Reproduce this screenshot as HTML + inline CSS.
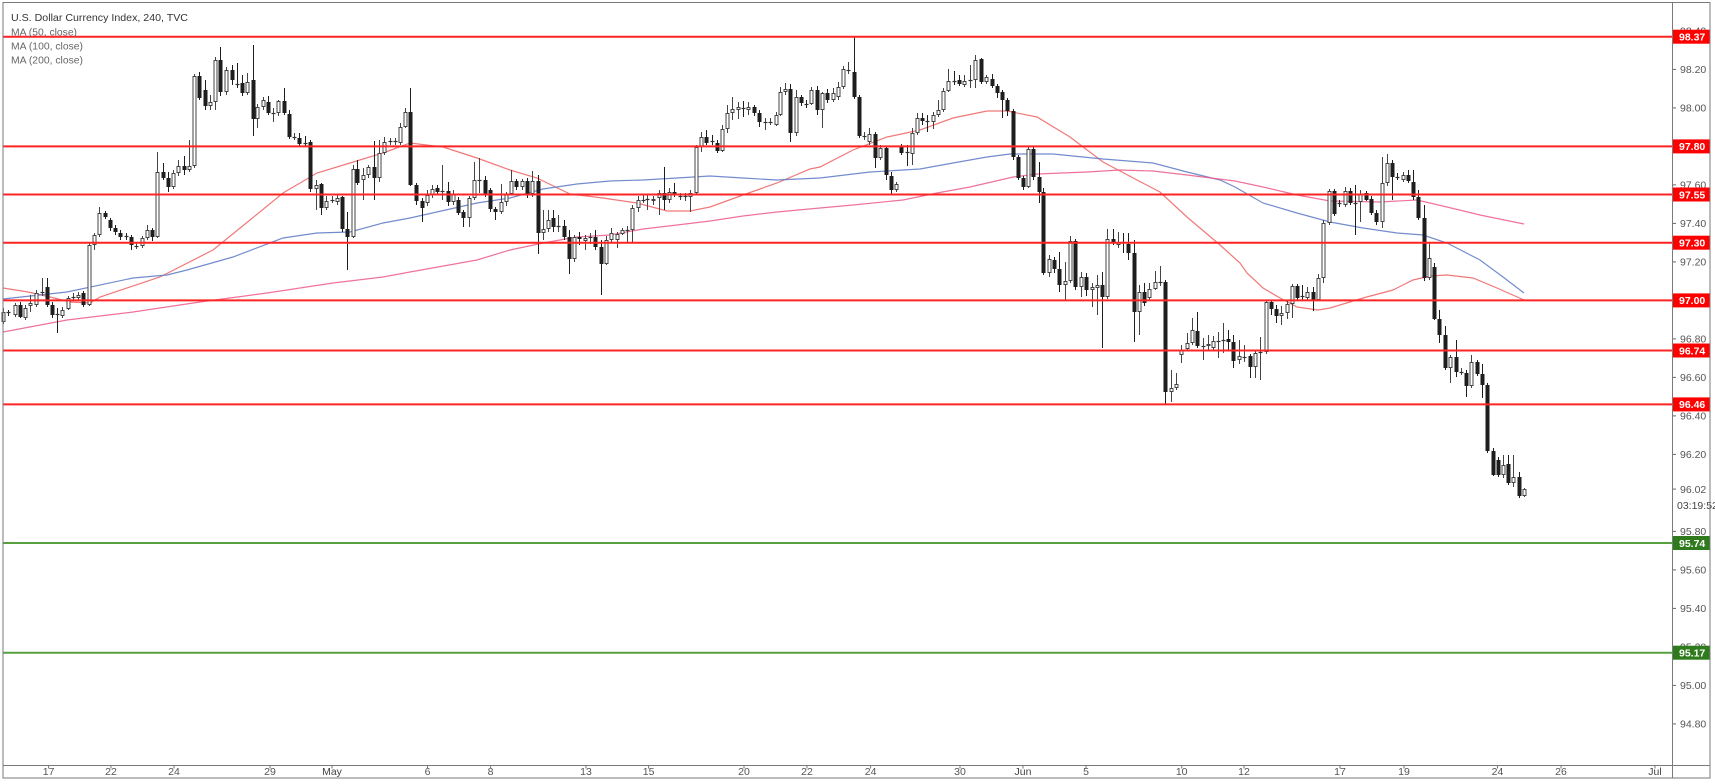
<!DOCTYPE html>
<html>
<head>
<meta charset="utf-8">
<style>
html,body{margin:0;padding:0;background:#fff;overflow:hidden;}
svg{display:block;font-family:"Liberation Sans",Arial,sans-serif;}
.tk{font-size:10.5px;fill:#555;}
.dt{font-size:10.5px;fill:#555;}
.bx{font-size:10.5px;fill:#fff;font-weight:bold;}
</style>
</head>
<body>
<svg id="s" width="1715" height="784" viewBox="0 0 1715 784" xmlns="http://www.w3.org/2000/svg">
<rect x="0" y="0" width="1715" height="784" fill="#fff"/>

<!-- MA lines -->
<polyline fill="none" stroke="#f06060" stroke-width="1.2" stroke-opacity="0.85" points="3,288 28,292 50,297 70,302 90,303 100,297 160,277 213,250 250,220 283,193 317,173 350,163 383,153 410,143 443,147 477,158 510,170 537,178 570,194 603,198 637,203 667,211 690,211 710,207 743,195 777,183 810,169 820,167 853,150 887,137 920,130 953,118 987,111 1007,111 1037,117 1070,137 1103,162 1137,180 1160,192 1187,217 1220,245 1240,263 1247,273 1263,288 1280,298 1297,307 1318,310 1330,308 1363,298 1393,290 1413,280 1430,276 1447,275 1473,278 1497,288 1524,300"/>
<polyline fill="none" stroke="#5a78c4" stroke-width="1.2" stroke-opacity="0.85" points="3,299 67,292 133,278 167,275 187,270 233,257 283,238 317,233 350,232 383,223 410,218 477,203 510,198 543,189 577,184 610,181 643,180 677,178 710,176 743,178 777,180 820,178 870,172 920,169 953,163 987,157 1010,154 1053,154 1103,159 1153,163 1187,172 1220,180 1235,187 1263,203 1297,213 1330,222 1363,228 1397,233 1423,235 1447,243 1480,260 1503,277 1524,293"/>
<polyline fill="none" stroke="#ec5a86" stroke-width="1.2" stroke-opacity="0.85" points="3,332 67,320 133,312 200,302 267,293 333,283 383,277 410,272 477,260 510,250 543,243 577,237 610,235 643,229 677,225 710,221 743,216 777,212 820,208 853,205 903,200 937,193 970,187 1013,177 1037,174 1087,172 1120,170 1153,171 1187,175 1235,181 1263,187 1297,195 1330,201 1380,202 1417,200 1447,207 1480,215 1524,224"/>

<g id="candles"></g>

<!-- level lines -->
<g stroke="#ff2424" stroke-width="2">
<line x1="3" x2="1672" y1="36.7" y2="36.7"/>
<line x1="3" x2="1672" y1="146.4" y2="146.4"/>
<line x1="3" x2="1672" y1="194.5" y2="194.5"/>
<line x1="3" x2="1672" y1="242.7" y2="242.7"/>
<line x1="3" x2="1672" y1="300.4" y2="300.4"/>
<line x1="3" x2="1672" y1="350.5" y2="350.5"/>
<line x1="3" x2="1672" y1="404.4" y2="404.4"/>
</g>
<g stroke="#56a040" stroke-width="2">
<line x1="3" x2="1672" y1="543" y2="543"/>
<line x1="3" x2="1672" y1="652.7" y2="652.7"/>
</g>

<!-- legend -->
<text x="11" y="21" font-size="10.5" fill="#333" textLength="177" lengthAdjust="spacingAndGlyphs">U.S. Dollar Currency Index, 240, TVC</text>
<text x="11" y="35.5" font-size="10.5" fill="#666" textLength="66" lengthAdjust="spacingAndGlyphs">MA (50, close)</text>
<text x="11" y="49.5" font-size="10.5" fill="#666" textLength="72" lengthAdjust="spacingAndGlyphs">MA (100, close)</text>
<text x="11" y="63.5" font-size="10.5" fill="#666" textLength="72" lengthAdjust="spacingAndGlyphs">MA (200, close)</text>

<!-- axes area background -->
<rect x="1673" y="3" width="37" height="775" fill="#fff"/>
<rect x="3" y="766" width="1707" height="12" fill="#fff"/>

<!-- price ticks -->
<g stroke="#666" stroke-width="1">
<line x1="1672" x2="1676" y1="30.9" y2="30.9"/><line x1="1672" x2="1676" y1="69.4" y2="69.4"/>
<line x1="1672" x2="1676" y1="107.9" y2="107.9"/><line x1="1672" x2="1676" y1="146.4" y2="146.4"/>
<line x1="1672" x2="1676" y1="184.9" y2="184.9"/><line x1="1672" x2="1676" y1="223.4" y2="223.4"/>
<line x1="1672" x2="1676" y1="261.9" y2="261.9"/><line x1="1672" x2="1676" y1="300.4" y2="300.4"/>
<line x1="1672" x2="1676" y1="338.9" y2="338.9"/><line x1="1672" x2="1676" y1="377.4" y2="377.4"/>
<line x1="1672" x2="1676" y1="415.9" y2="415.9"/><line x1="1672" x2="1676" y1="454.4" y2="454.4"/>
<line x1="1672" x2="1676" y1="489.1" y2="489.1"/>
<line x1="1672" x2="1676" y1="531.4" y2="531.4"/><line x1="1672" x2="1676" y1="569.9" y2="569.9"/>
<line x1="1672" x2="1676" y1="608.4" y2="608.4"/><line x1="1672" x2="1676" y1="646.9" y2="646.9"/>
<line x1="1672" x2="1676" y1="685.4" y2="685.4"/><line x1="1672" x2="1676" y1="723.9" y2="723.9"/>
</g>
<g class="tk">
<text x="1680" y="34.6">98.40</text>
<text x="1680" y="73.1">98.20</text>
<text x="1680" y="111.6">98.00</text>
<text x="1680" y="188.6">97.60</text>
<text x="1680" y="227.1">97.40</text>
<text x="1680" y="265.6">97.20</text>
<text x="1680" y="342.6">96.80</text>
<text x="1680" y="381.1">96.60</text>
<text x="1680" y="419.6">96.40</text>
<text x="1680" y="458.1">96.20</text>
<text x="1680" y="492.8">96.02</text>
<text x="1677" y="509" fill="#444">03:19:52</text>
<text x="1680" y="535.1">95.80</text>
<text x="1680" y="573.6">95.60</text>
<text x="1680" y="612.1">95.40</text>
<text x="1680" y="650.6">95.20</text>
<text x="1680" y="689.1">95.00</text>
<text x="1680" y="727.6">94.80</text>
</g>

<!-- level label boxes -->
<g fill="#ff0000">
<rect x="1672" y="29.7" width="38" height="14"/>
<rect x="1672" y="139.4" width="38" height="14"/>
<rect x="1672" y="187.5" width="38" height="14"/>
<rect x="1672" y="235.7" width="38" height="14"/>
<rect x="1672" y="293.4" width="38" height="14"/>
<rect x="1672" y="343.5" width="38" height="14"/>
<rect x="1672" y="397.4" width="38" height="14"/>
</g>
<g fill="#2f7a1c">
<rect x="1672" y="536" width="38" height="14"/>
<rect x="1672" y="645.7" width="38" height="14"/>
</g>
<g class="bx">
<text x="1679" y="40.5">98.37</text>
<text x="1679" y="150.2">97.80</text>
<text x="1679" y="198.3">97.55</text>
<text x="1679" y="246.5">97.30</text>
<text x="1679" y="304.2">97.00</text>
<text x="1679" y="354.3">96.74</text>
<text x="1679" y="408.2">96.46</text>
<text x="1679" y="546.8">95.74</text>
<text x="1679" y="656.5">95.17</text>
</g>

<!-- date axis -->
<g stroke="#777" stroke-width="1">
<line x1="48.6" x2="48.6" y1="766" y2="768.5"/><line x1="111" x2="111" y1="766" y2="768.5"/>
<line x1="174" x2="174" y1="766" y2="768.5"/><line x1="270" x2="270" y1="766" y2="768.5"/>
<line x1="332" x2="332" y1="766" y2="768.5"/><line x1="427.5" x2="427.5" y1="766" y2="768.5"/>
<line x1="490.6" x2="490.6" y1="766" y2="768.5"/><line x1="586" x2="586" y1="766" y2="768.5"/>
<line x1="648.6" x2="648.6" y1="766" y2="768.5"/><line x1="744" x2="744" y1="766" y2="768.5"/>
<line x1="807" x2="807" y1="766" y2="768.5"/><line x1="870.6" x2="870.6" y1="766" y2="768.5"/>
<line x1="960" x2="960" y1="766" y2="768.5"/><line x1="1023" x2="1023" y1="766" y2="768.5"/>
<line x1="1086" x2="1086" y1="766" y2="768.5"/><line x1="1181.7" x2="1181.7" y1="766" y2="768.5"/>
<line x1="1244" x2="1244" y1="766" y2="768.5"/><line x1="1340" x2="1340" y1="766" y2="768.5"/>
<line x1="1404" x2="1404" y1="766" y2="768.5"/><line x1="1497.5" x2="1497.5" y1="766" y2="768.5"/>
<line x1="1561" x2="1561" y1="766" y2="768.5"/><line x1="1655" x2="1655" y1="766" y2="768.5"/>
</g>
<g class="dt" text-anchor="middle">
<text x="48.6" y="775">17</text><text x="111" y="775">22</text><text x="174" y="775">24</text>
<text x="270" y="775">29</text><text x="332" y="775" fill="#444">May</text><text x="427.5" y="775">6</text>
<text x="490.6" y="775">8</text><text x="586" y="775">13</text><text x="648.6" y="775">15</text>
<text x="744" y="775">20</text><text x="807" y="775">22</text><text x="870.6" y="775">24</text>
<text x="960" y="775">30</text><text x="1023" y="775" fill="#444">Jun</text><text x="1086" y="775">5</text>
<text x="1181.7" y="775">10</text><text x="1244" y="775">12</text><text x="1340" y="775">17</text>
<text x="1404" y="775">19</text><text x="1497.5" y="775">24</text><text x="1561" y="775">26</text>
<text x="1655" y="775" fill="#444">Jul</text>
</g>

<!-- frame -->
<g stroke="#7a7a7a" stroke-width="1" fill="none">
<rect x="3" y="2.5" width="1707" height="775.5"/>
<line x1="1672.5" x2="1672.5" y1="2.5" y2="778"/>
<line x1="3" x2="1710" y1="765.5" y2="765.5"/>
</g>
</svg>
<script>
(function(){
var D=[[3,322,312,308,324],[8,312,313,310,316],[15,315,305,303,317],[20,305,317,302,318],[25,318,308,305,320],[30,306,303,295,312],[36,305,293,290,307],[42,293,292,278,296],[47,287,305,278,307],[52,305,315,302,318],[57,314,315,308,333],[62,316,310,307,318],[68,309,298,296,310],[73,298,297,293,300],[78,298,295,292,300],[83,293,305,291,307],[89,305,245,243,306],[94,245,235,233,250],[99,235,213,207,237],[105,213,217,211,219],[110,220,228,218,231],[115,228,232,225,235],[120,233,237,230,240],[126,236,237,233,240],[131,237,245,235,250],[136,246,246,242,249],[142,246,238,236,248],[147,238,230,225,240],[152,230,237,228,241],[157,237,172,152,238],[163,172,178,163,180],[168,178,187,172,192],[173,187,173,170,189],[178,173,166,160,176],[184,166,170,156,175],[189,170,166,140,172],[194,166,76,74,168],[199,76,98,72,100],[205,90,106,80,110],[210,106,102,95,110],[215,102,60,57,110],[220,60,92,47,96],[226,92,70,67,95],[232,70,80,65,85],[237,84,85,63,88],[242,83,93,75,96],[247,93,82,73,95],[253,80,119,45,136],[257,119,107,104,128],[263,107,100,97,110],[268,102,113,96,115],[273,113,113,108,122],[278,113,101,100,116],[284,101,113,88,115],[289,114,137,110,139],[294,137,137,133,140],[299,138,144,133,146],[305,143,144,136,146],[310,142,189,140,192],[316,189,185,180,210],[321,184,208,183,215],[326,208,201,196,210],[332,201,200,196,203],[337,202,198,195,205],[342,197,229,196,232],[347,229,237,212,270],[353,237,169,165,238],[357,169,183,160,185],[363,180,175,168,200],[368,175,167,165,178],[374,167,178,141,200],[379,178,153,140,182],[384,153,142,137,155],[390,142,141,138,145],[395,142,141,138,145],[400,143,127,123,145],[405,127,112,108,128],[410,112,185,88,186],[416,185,201,183,205],[422,201,208,198,222],[427,203,195,190,206],[432,195,189,185,198],[437,188,192,185,195],[442,192,191,165,200],[448,191,202,182,206],[453,202,194,190,205],[458,200,213,197,215],[463,212,218,210,227],[469,218,198,196,227],[474,198,180,162,200],[479,180,180,158,193],[485,180,194,176,197],[490,190,209,188,212],[495,209,212,207,220],[501,212,202,184,214],[506,202,194,192,206],[511,194,181,170,195],[516,181,187,179,190],[522,187,181,179,190],[527,181,194,178,198],[532,194,181,171,197],[538,181,233,175,254],[543,233,229,210,240],[548,229,220,210,232],[553,218,227,210,232],[558,227,226,215,232],[564,226,237,220,240],[569,237,259,230,274],[574,259,237,235,262],[579,237,239,232,245],[585,241,238,235,250],[590,238,237,233,244],[595,237,247,230,250],[601,247,264,240,295],[606,264,240,236,265],[611,240,233,228,243],[617,240,234,232,248],[622,234,230,228,235],[627,230,230,226,242],[632,230,208,205,243],[638,208,200,196,212],[643,200,200,195,203],[647,200,199,195,210],[653,201,199,196,205],[659,198,193,190,215],[664,193,200,167,210],[669,200,192,188,203],[674,192,195,183,197],[680,196,196,193,200],[685,196,196,193,201],[690,197,193,190,212],[696,193,147,145,195],[701,147,137,132,152],[706,137,143,130,145],[712,141,142,135,145],[717,143,151,140,153],[722,151,129,125,152],[727,129,113,105,133],[732,113,109,97,120],[738,110,107,102,119],[743,108,109,101,117],[748,110,107,102,115],[754,107,113,105,116],[759,113,122,110,127],[765,122,122,118,130],[770,122,122,118,125],[776,125,115,112,126],[780,115,92,87,116],[785,92,89,83,95],[790,89,133,84,142],[796,133,97,90,136],[801,97,103,95,106],[806,104,105,100,108],[811,104,90,87,105],[817,90,110,86,115],[822,110,93,92,128],[827,93,100,89,103],[833,100,93,88,102],[838,97,87,82,100],[843,87,69,66,89],[848,70,70,62,74],[854,72,97,37,99],[859,97,136,95,138],[864,136,136,132,140],[869,142,134,128,145],[875,134,158,132,168],[880,158,148,145,160],[886,148,175,146,180],[891,176,190,172,195],[896,190,184,182,192],[901,147,153,144,155],[907,152,153,145,166],[912,154,133,128,165],[917,133,118,113,135],[922,118,121,113,125],[927,121,122,115,132],[933,122,115,112,129],[938,115,110,100,117],[943,110,91,88,112],[948,91,81,69,92],[954,81,82,71,85],[959,80,84,75,86],[964,85,81,75,87],[970,80,80,65,88],[975,80,60,55,88],[981,59,82,58,84],[986,82,77,75,84],[992,79,86,74,88],[997,86,93,84,98],[1002,92,100,90,118],[1007,100,111,98,116],[1013,111,157,109,160],[1018,157,178,155,180],[1023,178,187,176,190],[1028,187,149,146,188],[1033,149,177,146,180],[1039,177,192,162,203],[1043,192,273,188,275],[1049,273,259,255,277],[1054,260,269,257,273],[1059,269,285,252,292],[1065,285,281,262,300],[1070,281,241,236,283],[1075,241,287,239,290],[1081,287,277,272,297],[1086,277,290,273,296],[1092,290,287,283,307],[1097,288,285,275,315],[1102,285,297,272,348],[1107,297,239,229,299],[1113,239,243,229,245],[1118,245,242,232,248],[1123,242,243,233,253],[1128,244,253,233,260],[1134,253,312,240,342],[1139,312,292,285,335],[1144,292,303,283,306],[1149,298,289,283,300],[1155,289,282,271,290],[1160,282,282,266,286],[1165,282,392,280,404],[1171,392,388,370,402],[1176,388,384,373,390],[1181,355,350,345,363],[1187,349,343,333,351],[1192,343,330,318,345],[1197,331,346,312,348],[1203,346,346,338,360],[1208,346,344,335,350],[1213,348,341,336,350],[1218,341,341,332,358],[1223,340,340,323,353],[1228,339,342,330,350],[1233,342,361,335,368],[1239,360,356,340,364],[1244,357,357,345,362],[1250,356,367,354,378],[1255,367,353,350,378],[1260,352,352,337,380],[1266,352,302,300,354],[1271,302,309,300,315],[1276,309,316,305,323],[1281,316,313,306,325],[1287,313,304,300,319],[1292,304,286,284,318],[1297,286,298,284,300],[1302,296,297,285,300],[1307,298,292,287,300],[1313,292,300,287,311],[1318,300,278,274,301],[1323,278,223,220,283],[1329,223,191,189,225],[1334,191,214,189,216],[1339,203,204,200,207],[1345,205,191,187,207],[1350,191,203,188,205],[1355,203,204,185,235],[1360,202,194,190,222],[1366,193,200,191,201],[1371,199,213,196,215],[1376,213,222,210,225],[1382,222,183,157,228],[1387,183,163,154,186],[1392,163,177,160,200],[1397,177,178,173,180],[1403,180,175,172,182],[1408,175,181,170,183],[1413,182,197,170,200],[1418,197,218,190,220],[1424,218,278,205,281],[1429,278,258,243,280],[1434,267,319,263,320],[1439,319,335,310,343],[1445,335,368,326,370],[1450,368,357,355,383],[1456,357,372,340,377],[1461,372,372,368,375],[1466,373,386,370,397],[1471,386,362,355,388],[1477,362,374,360,376],[1482,374,385,364,398],[1487,385,451,383,453],[1493,451,475,448,476],[1498,460,475,457,477],[1503,475,465,455,478],[1508,464,483,455,485],[1513,483,477,455,487],[1519,477,496,472,498],[1524,496,489,488,497]];
var NS="http://www.w3.org/2000/svg";
var g=document.getElementById("candles");
function el(t,a){var e=document.createElementNS(NS,t);for(var k in a)e.setAttribute(k,String(a[k]));g.appendChild(e);return e;}
for(var i=0;i<D.length;i++){
  var d=D[i],cx=Math.round(d[0])+0.5,o=d[1],c=d[2],hh=d[3],ll=d[4];
  var tp=Math.min(o,c),bt=Math.max(o,c);
  hh=Math.min(hh,tp);ll=Math.max(ll,bt);
  var dk=c>o;
  el("line",{x1:cx,x2:cx,y1:hh,y2:ll,stroke:dk?"#1e1e1e":"#444","stroke-width":1});
  if(bt-tp<1.2){
    el("line",{x1:cx-2,x2:cx+2,y1:tp+0.5,y2:tp+0.5,stroke:"#333","stroke-width":1.2});
  }else if(dk){
    el("rect",{x:cx-2,y:tp,width:4,height:bt-tp,fill:"#1e1e1e"});
  }else{
    el("rect",{x:cx-1.5,y:tp+0.5,width:3,height:Math.max(bt-tp-1,0.5),fill:"#fff",stroke:"#444","stroke-width":1});
  }
}
})();
</script>
</body>
</html>
